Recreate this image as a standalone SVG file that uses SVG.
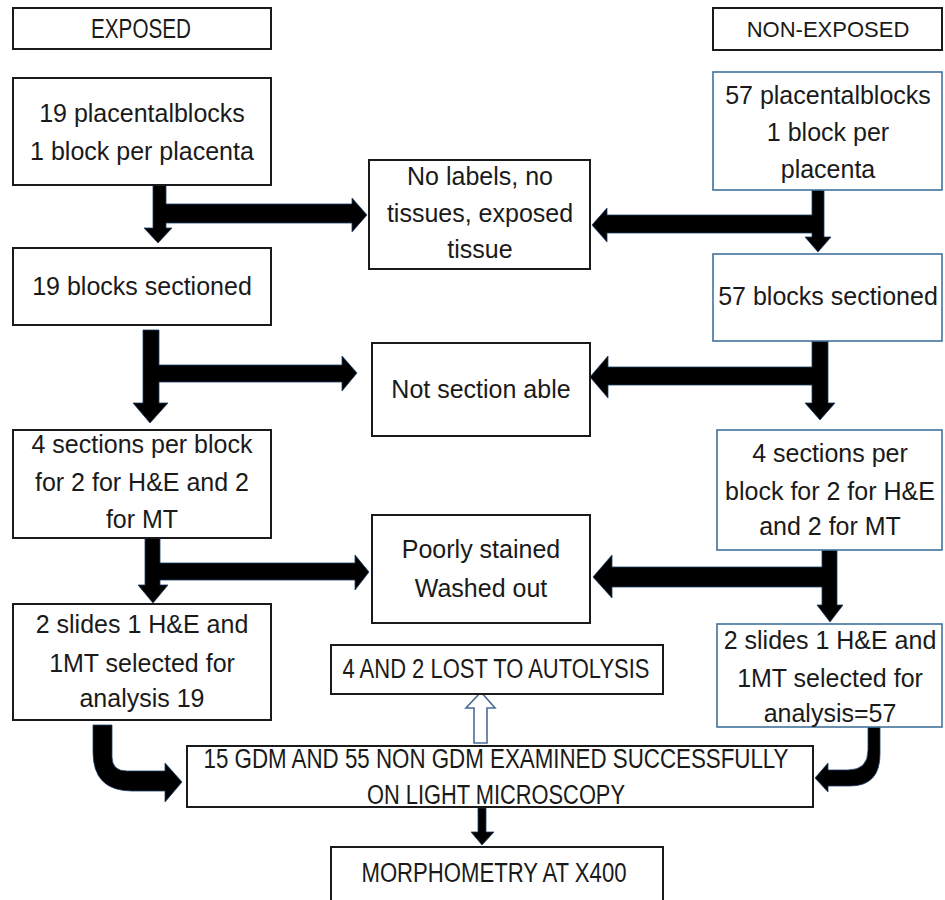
<svg xmlns="http://www.w3.org/2000/svg" width="945" height="900" viewBox="0 0 945 900">
<style>
.bx{fill:#fff;stroke:#1a1a1a;stroke-width:2}
.bb{fill:#fff;stroke:#41719c;stroke-width:1.6}
text{font-family:"Liberation Sans",Arial,sans-serif;font-size:25px;fill:#1a1a1a;text-anchor:middle}
.cap{font-size:27px}
.ar{fill:#000;stroke:#1f3f66;stroke-width:0.8;stroke-linejoin:miter}
.ho{fill:#fff;stroke:#4a6c96;stroke-width:1.6}
</style>
<rect width="945" height="900" fill="#fff"/>
<g id="connectors">
<polygon class="ar" points="153,185 166,185 166,204 352,204 352,198 367,215 352,232 352,223 166,223 166,228 172,228 158,243 144,228 153,228"/>
<polygon class="ar" points="812,190 824,190 824,237 831,237 818,252 805,237 812,237 812,233 607,233 607,242 592,225 607,208 607,215 812,215"/>
<polygon class="ar" points="143,330 159,330 159,365 342,365 342,356 357,373 342,391 342,382 159,382 159,403 168,403 150,423 133,403 143,403"/>
<polygon class="ar" points="812,341 828,341 828,403 835,403 820,420 805,403 812,403 812,385 608,385 608,398 590,377 608,356 608,367 812,367"/>
<polygon class="ar" points="145,538 160,538 160,563 355,563 355,555 369,572 355,590 355,580 160,580 160,585 168,585 153,603 138,585 145,585"/>
<polygon class="ar" points="822,550 837,550 837,605 843,605 830,622 817,605 822,605 822,587 612,587 612,598 593,577 612,555 612,567 822,567"/>
<path class="ar" d="M93,725 L112,725 L112,757 Q112,771 127,771 L165,771 L165,763 L182,782 L165,802 L165,791 L132,791 Q93,791 93,752 Z"/>
<path class="ar" d="M868,727 L880,727 L880,754 Q880,786 850,786 L828,786 L828,792 L815,778 L828,763 L828,770 L848,770 Q868,770 868,750 Z"/>
<polygon class="ho" points="474,743 487,743 487,708 495,708 481,692 466,708 474,708"/>
<polygon class="ar" points="478,808 486,808 486,832 494,832 482,845 471,832 478,832"/>
</g>
<g id="exposed"><rect class="bx" x="13" y="8" width="258" height="41"/><text class="cap" x="141" y="38" textLength="100" lengthAdjust="spacingAndGlyphs">EXPOSED</text></g>
<g id="non-exposed"><rect class="bx" x="713" y="8" width="229" height="42"/><text x="828" y="37" style="font-size:22px">NON-EXPOSED</text></g>
<g id="e-blocks"><rect class="bx" x="13" y="78" width="258" height="107"/><text x="142" y="122">19 placentalblocks</text><text x="142" y="160">1 block per placenta</text></g>
<g id="n-blocks"><rect class="bb" x="713" y="72" width="229" height="118"/><text x="828" y="104">57 placentalblocks</text><text x="828" y="141">1 block per</text><text x="828" y="178">placenta</text></g>
<g id="no-labels"><rect class="bx" x="369" y="160" width="221" height="109"/><text x="480" y="185">No labels, no</text><text x="480" y="222">tissues, exposed</text><text x="480" y="258">tissue</text></g>
<g id="e-sectioned"><rect class="bx" x="13" y="248" width="258" height="77"/><text x="142" y="295">19 blocks sectioned</text></g>
<g id="n-sectioned"><rect class="bb" x="713" y="254" width="229" height="87"/><text x="828" y="305">57 blocks sectioned</text></g>
<g id="not-sectionable"><rect class="bx" x="372" y="343" width="218" height="93"/><text x="481" y="398">Not section able</text></g>
<g id="e-sections"><rect class="bx" x="13" y="430" width="258" height="108"/><text x="142" y="453">4 sections per block</text><text x="142" y="491">for 2 for H&amp;E and 2</text><text x="142" y="528">for MT</text></g>
<g id="n-sections"><rect class="bb" x="717" y="430" width="225" height="120"/><text x="830" y="462">4 sections per</text><text x="830" y="500">block for 2 for H&amp;E</text><text x="830" y="535">and 2 for MT</text></g>
<g id="poorly-stained"><rect class="bx" x="372" y="515" width="218" height="108"/><text x="481" y="558">Poorly stained</text><text x="481" y="597">Washed out</text></g>
<g id="e-slides"><rect class="bx" x="13" y="604" width="258" height="116"/><text x="142" y="633">2 slides 1 H&amp;E and</text><text x="142" y="672">1MT selected for</text><text x="142" y="707">analysis 19</text></g>
<g id="n-slides"><rect class="bb" x="717" y="624" width="225" height="103"/><text x="830" y="649">2 slides 1 H&amp;E and</text><text x="830" y="687">1MT selected for</text><text x="830" y="722">analysis=57</text></g>
<g id="autolysis"><rect class="bx" x="331" y="645" width="332" height="49"/><text class="cap" x="496" y="678" textLength="307" lengthAdjust="spacingAndGlyphs">4 AND 2 LOST TO AUTOLYSIS</text></g>
<g id="examined"><rect class="bx" x="187" y="746" width="626" height="61"/><text class="cap" x="496" y="768" textLength="585" lengthAdjust="spacingAndGlyphs">15 GDM AND 55 NON GDM EXAMINED SUCCESSFULLY</text><text class="cap" x="496" y="804" textLength="258" lengthAdjust="spacingAndGlyphs">ON LIGHT MICROSCOPY</text></g>
<g id="morphometry"><rect class="bx" x="331" y="847" width="332" height="60"/><text class="cap" x="494" y="882" textLength="265" lengthAdjust="spacingAndGlyphs">MORPHOMETRY AT X400</text></g>
</svg>
